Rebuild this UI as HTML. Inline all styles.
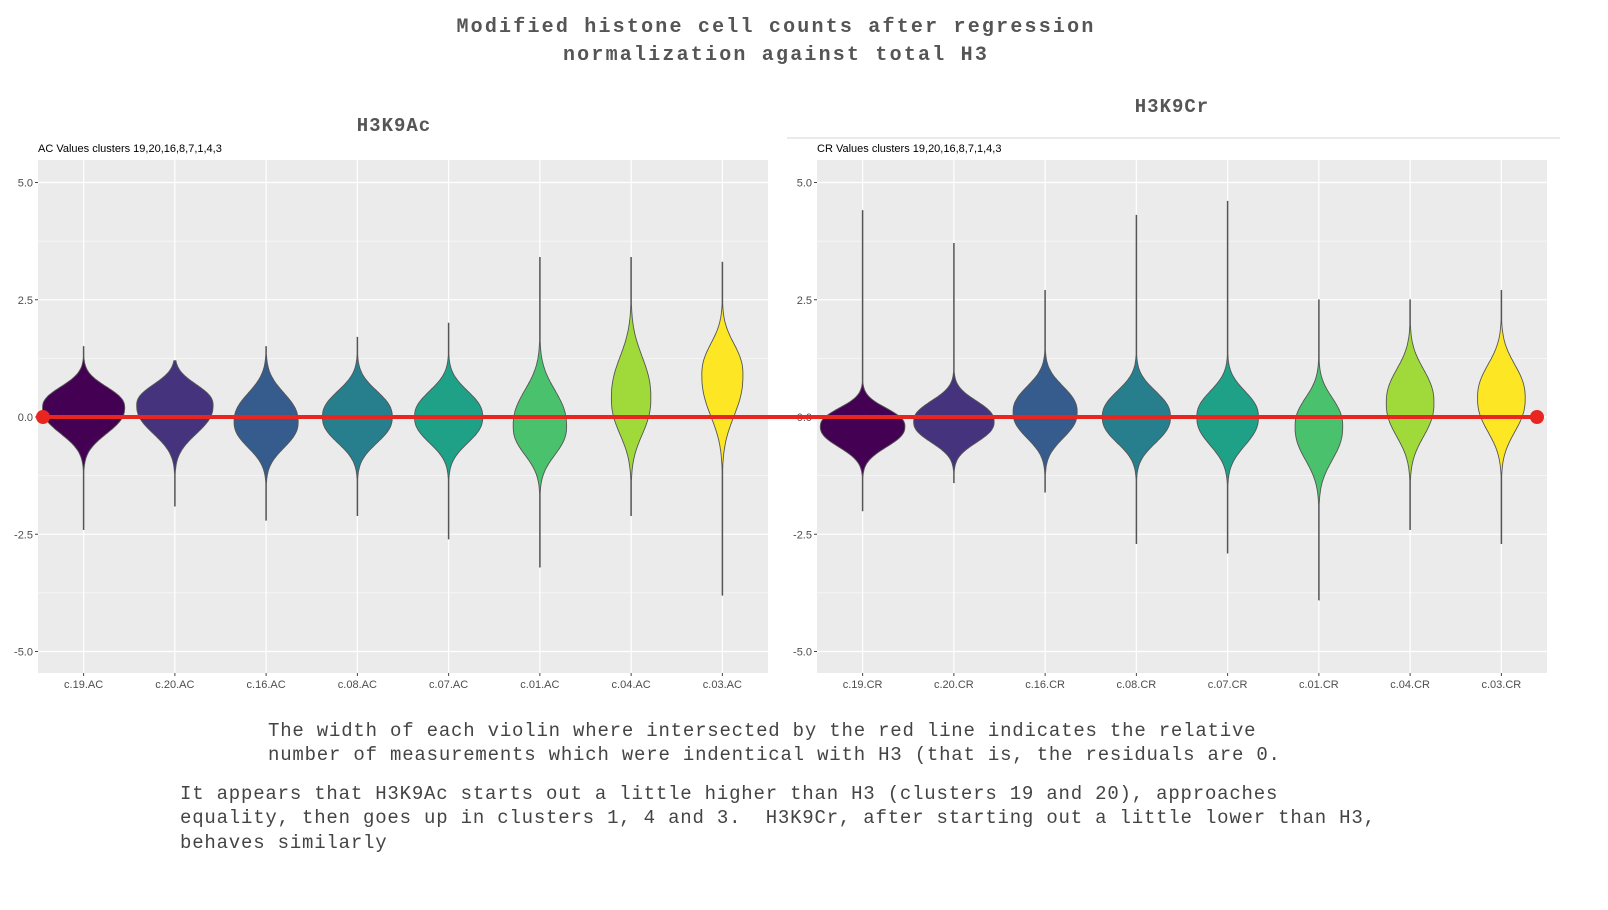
<!DOCTYPE html>
<html><head><meta charset="utf-8"><style>
body{margin:0;background:#fff;width:1608px;height:905px;overflow:hidden;font-family:"Liberation Sans",sans-serif}
</style></head><body>
<svg id="chart" width="1608" height="905" xmlns="http://www.w3.org/2000/svg" font-family="Liberation Sans, sans-serif">
<text font-family="Liberation Mono, monospace" x="776" y="32" text-anchor="middle" font-size="20" font-weight="bold" fill="#555" letter-spacing="2.2">Modified histone cell counts after regression</text>
<text font-family="Liberation Mono, monospace" x="776" y="60" text-anchor="middle" font-size="20" font-weight="bold" fill="#555" letter-spacing="2.2">normalization against total H3</text>
<text font-family="Liberation Mono, monospace" x="394" y="131" text-anchor="middle" font-size="19" font-weight="bold" fill="#555" letter-spacing="1">H3K9Ac</text>
<text font-family="Liberation Mono, monospace" x="1172" y="112" text-anchor="middle" font-size="19" font-weight="bold" fill="#555" letter-spacing="1">H3K9Cr</text>
<line x1="787" y1="138" x2="1560" y2="138" stroke="#e4e4e4" stroke-width="1.5"/>
<text x="38" y="152" font-size="11" fill="#000">AC  Values clusters 19,20,16,8,7,1,4,3</text>
<text x="817" y="152" font-size="11" fill="#000">CR Values clusters 19,20,16,8,7,1,4,3</text>
<g id="panels"></g>
<line x1="43" y1="417" x2="1537" y2="417" stroke="#e8261f" stroke-width="4"/>
<circle cx="43" cy="417" r="7" fill="#e8261f"/>
<circle cx="1537" cy="417" r="7" fill="#e8261f"/>
<g font-family="Liberation Mono, monospace" font-size="19" fill="#444" letter-spacing="0.8">
<text x="268" y="736">The width of each violin where intersected by the red line indicates the relative</text>
<text x="268" y="760">number of measurements which were indentical with H3 (that is, the residuals are 0.</text>
<text x="180" y="799">It appears that H3K9Ac starts out a little higher than H3 (clusters 19 and 20), approaches</text>
<text x="180" y="823" xml:space="preserve">equality, then goes up in clusters 1, 4 and 3.  H3K9Cr, after starting out a little lower than H3,</text>
<text x="180" y="848">behaves similarly</text>
</g>
</svg>
<script>
const acCategories=["c.19.AC","c.20.AC","c.16.AC","c.08.AC","c.07.AC","c.01.AC","c.04.AC","c.03.AC"];
const crCategories=["c.19.CR","c.20.CR","c.16.CR","c.08.CR","c.07.CR","c.01.CR","c.04.CR","c.03.CR"];
const yTicks=[5,2.5,0,-2.5,-5];
const yTickLabels=["5.0","2.5","0.0","-2.5","-5.0"];
const colors=["#440154","#46337E","#365C8D","#277F8E","#1FA187","#4AC16D","#9FDA3A","#FDE725"];
const acMax=[1.5,1.2,1.5,1.7,2.0,3.4,3.4,3.3];
const acMin=[-2.4,-1.9,-2.2,-2.1,-2.6,-3.2,-2.1,-3.8];
const acMode=[0.2,0.25,-0.1,0.0,0.0,-0.2,0.4,0.9];
const acWidth=[1.0,0.93,0.78,0.85,0.83,0.65,0.48,0.5];
const acSdUp=[0.4,0.4,0.55,0.5,0.5,0.7,0.8,0.6];
const acSdDown=[0.5,0.55,0.5,0.5,0.5,0.55,0.7,0.8];
const crMax=[4.4,3.7,2.7,4.3,4.6,2.5,2.5,2.7];
const crMin=[-2.0,-1.4,-1.6,-2.7,-2.9,-3.9,-2.4,-2.7];
const crMode=[-0.2,-0.1,0.1,0.0,0.0,-0.2,0.3,0.4];
const crWidth=[1.03,0.98,0.78,0.83,0.75,0.58,0.58,0.58];
const crSdUp=[0.35,0.4,0.5,0.5,0.5,0.55,0.65,0.65];
const crSdDown=[0.4,0.4,0.5,0.5,0.55,0.65,0.65,0.65];

const NS="http://www.w3.org/2000/svg";
const root=document.getElementById('panels');
function mk(t,a,p){const e=document.createElementNS(NS,t);for(const k in a)e.setAttribute(k,a[k]);p.appendChild(e);return e;}
function drawPanel(x0,x1,cats,mx,mn,md,wd,su,sd,prefix){
  const y0=160,y1=673;
  const yS=v=>417-v*46.9;
  const band=(x1-x0)/cats.length;
  const xS=i=>x0+band*(i+0.5);
  const g=mk('g',{},root);
  
  
  const bg=mk('rect',{x:x0,y:y0,width:x1-x0,height:y1-y0,fill:'#ebebeb'},g);
  
  
  [3.75,1.25,-1.25,-3.75].forEach(v=>{const l=mk('line',{x1:x0,x2:x1,y1:yS(v),y2:yS(v),stroke:'#fff','stroke-width':0.6},g);
    
    });
  yTicks.forEach((v,i)=>{
    const l=mk('line',{x1:x0,x2:x1,y1:yS(v),y2:yS(v),stroke:'#fff','stroke-width':1.2},g);
    
    
    const tk=mk('line',{x1:x0-3,x2:x0,y1:yS(v),y2:yS(v),stroke:'#444'},g);
    
    
    const t=mk('text',{x:x0-5,y:yS(v)+4,'text-anchor':'end','font-size':11,fill:'#4d4d4d'},g);
    
    
    t.textContent=yTickLabels[i];
  });
  cats.forEach((c,i)=>{
    const l=mk('line',{x1:xS(i),x2:xS(i),y1:y0,y2:y1,stroke:'#fff','stroke-width':1.2},g);
    
    
    const tk=mk('line',{x1:xS(i),x2:xS(i),y1:y1,y2:y1+3,stroke:'#444'},g);
    
    
    const t=mk('text',{x:xS(i),y:y1+15,'text-anchor':'middle','font-size':11,fill:'#4d4d4d'},g);
    
    
    t.textContent=c;
  });
  cats.forEach((c,i)=>{
    const cx=xS(i),hw=wd[i]*band*0.45;
    const right=[],left=[];
    const N=200;
    for(let k=0;k<=N;k++){
      const v=mx[i]-(mx[i]-mn[i])*k/N;
      const s=v>=md[i]?su[i]:sd[i];
      const z=Math.abs(v-md[i])/s;
      const w=Math.max(hw*Math.exp(-Math.pow(z,2.4)/2.2),0.3);
      right.push((cx+w).toFixed(1)+','+yS(v).toFixed(1));
      left.unshift((cx-w).toFixed(1)+','+yS(v).toFixed(1));
    }
    const p=mk('polygon',{points:right.concat(left).join(' '),fill:colors[i],stroke:'#555','stroke-width':0.9},g);
    
    
  });
}
drawPanel(38,768,acCategories,acMax,acMin,acMode,acWidth,acSdUp,acSdDown,'ac');
drawPanel(817,1547,crCategories,crMax,crMin,crMode,crWidth,crSdUp,crSdDown,'cr');
</script>
</body></html>
